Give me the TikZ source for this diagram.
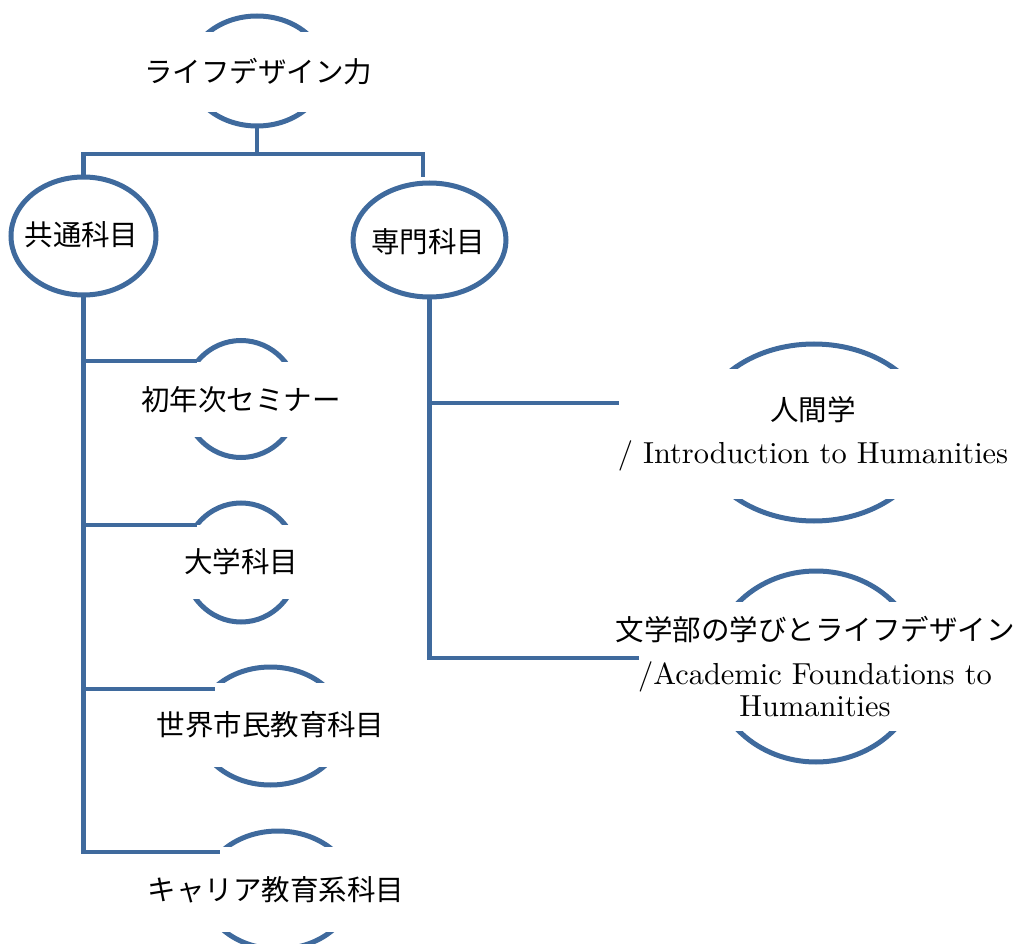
\documentclass[tikz,border=0pt]{standalone}
\usepackage{fontspec}
\newfontfamily\cjk{Noto Sans CJK JP}
\newfontfamily\lat{lmroman10-regular.otf}
\usetikzlibrary{shapes.geometric}
\definecolor{edge}{HTML}{3F6A9D}
\newcommand\myjp{\cjk\fontsize{28.5pt}{32pt}\selectfont}
\newcommand\myen{\lat\fontsize{30.4pt}{32pt}\selectfont}
\tikzset{
  oval/.style={draw=edge, line width=5pt, ellipse, inner sep=0pt, outer sep=0pt},
  cover/.style={fill=white, inner sep=0pt, align=center, font=\myjp},
  plain/.style={inner sep=0pt, align=center, font=\myjp},
  link/.style={draw=edge, line width=4.5pt},
}
\begin{document}
\begin{tikzpicture}[x=1pt,y=-1pt]
\useasboundingbox (0,0) rectangle (1021,944);
% ellipses
\node[oval, minimum width=136pt, minimum height=110pt] (top) at (257,71) {};
\node[oval, minimum width=145pt, minimum height=118pt] (kyotsu) at (83.5,236) {};
\node[oval, minimum width=153pt, minimum height=114pt] (senmon) at (429.5,240) {};
\node[oval, minimum width=114pt, minimum height=117pt] (s1) at (241,399) {};
\node[oval, minimum width=114pt, minimum height=119pt] (s2) at (241,562.5) {};
\node[oval, minimum width=147pt, minimum height=118pt] (s3) at (270.5,726) {};
\node[oval, minimum width=149pt, minimum height=118pt] (s4) at (278,890) {};
\node[oval, minimum width=232pt, minimum height=177pt] (r1e) at (814,432.5) {};
\node[oval, minimum width=209pt, minimum height=191pt] (r2e) at (816,666.5) {};
% texts
\node[cover, minimum width=146pt, minimum height=80pt] (topT) at (258,72) {ライフデザイン力};
\node[plain] (kyotsuT) at (81.5,235) {共通科目};
\node[plain] (senmonT) at (428,242) {専門科目};
\node[cover, minimum width=124pt, minimum height=75pt] (s1T) at (241,399.5) {初年次セミナー};
\node[cover, minimum width=124pt, minimum height=74pt] (s2T) at (241,562) {大学科目};
\node[cover, minimum width=157pt, minimum height=84pt] (s3T) at (270.5,725) {世界市民教育科目};
\node[cover, minimum width=160pt, minimum height=85pt] (s4T) at (276,889.5) {キャリア教育系科目};
\node[cover, minimum width=242pt, minimum height=130pt] (r1T) at (813,434) {人間学\\[11pt]\myen / Introduction to Humanities};
\node[cover, minimum width=219pt, minimum height=129pt] (r2T) at (815,666.5) {文学部の学びとライフデザイン\\[12pt]\myen /Academic Foundations to\\\myen Humanities};
% connector ends
\coordinate (bar) at (0,154);
\coordinate (rs) at (423,177);
\coordinate (b1) at (197,361);
\coordinate (b2) at (197,525);
\coordinate (b3) at (215,689);
\coordinate (b4) at (220,852);
\coordinate (c1) at (619,403);
\coordinate (c2) at (639,658);
% connectors
\draw[link] (top.south) -- (top.south |- bar);
\draw[link] (kyotsu.north) |- (rs |- bar) -- (rs);
\draw[link] (kyotsu.south) |- (b4);
\draw[link] (kyotsu.south |- b1) -- (b1);
\draw[link] (kyotsu.south |- b2) -- (b2);
\draw[link] (kyotsu.south |- b3) -- (b3);
\draw[link] (senmon.south) |- (c2);
\draw[link] (senmon.south |- c1) -- (c1);
\end{tikzpicture}
\end{document}
